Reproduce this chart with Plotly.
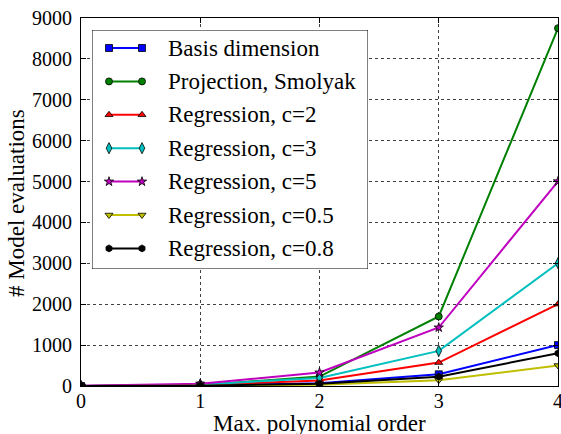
import plotly.graph_objects as go

orders = [0, 1, 2, 3, 4]
basis_dim = [1, 11, 66, 286, 1001]
proj_smolyak = [1, 21, 231, 1701, 8751]
reg_c2 = [2, 22, 132, 572, 2002]
reg_c3 = [3, 33, 198, 858, 3003]
reg_c5 = [5, 55, 330, 1430, 5005]
reg_c05 = [1, 6, 33, 143, 501]
reg_c08 = [1, 9, 53, 229, 801]

names = ["Basis dimension", "Projection, Smolyak", "Regression, c=2",
         "Regression, c=3", "Regression, c=5", "Regression, c=0.5",
         "Regression, c=0.8"]
series = [basis_dim, proj_smolyak, reg_c2, reg_c3, reg_c5, reg_c05, reg_c08]
colors = ["#0000ff", "#008000", "#ff0000", "#00bfbf", "#bf00bf", "#bfbf00", "#000000"]
symbols = ["square", "circle", "triangle-up", "diamond-tall", "star", "triangle-down", "hexagon"]
msizes = [7, 7, 7, 8, 7, 7, 7]

FONT = "Liberation Serif"
W, H = 561, 434
L, R, T, B = 81, 3, 18, 48
pw, ph = W - L - R, H - T - B

fig = go.Figure()
for n, s, c, sym, ms in zip(names, series, colors, symbols, msizes):
    fig.add_trace(go.Scatter(
        x=orders, y=s, name=n, mode="lines+markers",
        line=dict(color=c, width=2),
        marker=dict(symbol=sym, size=ms, color=c, line=dict(color="black", width=0.8)),
        showlegend=False, xaxis="x", yaxis="y"))

# manual legend on an overlay axis (pixel-like coordinates)
lx0, lx1, ly0, ly1 = 92, 368, 30, 269
def px_x(p):
    return (p - L) / pw
def px_y(p):
    return (H - B - p) / ph

fig.add_trace(go.Scatter(
    x=[lx0, lx1, lx1, lx0, lx0], y=[ly0, ly0, ly1, ly1, ly0],
    mode="lines", fill="toself", fillcolor="white",
    line=dict(color="black", width=1), showlegend=False,
    xaxis="x2", yaxis="y2", hoverinfo="skip"))

row0, dy = 48, 33.4
for i, (n, c, sym, ms) in enumerate(zip(names, colors, symbols, msizes)):
    yy = row0 + i * dy
    fig.add_trace(go.Scatter(
        x=[109, 142], y=[yy, yy], mode="lines+markers",
        line=dict(color=c, width=2),
        marker=dict(symbol=sym, size=ms, color=c, line=dict(color="black", width=0.8)),
        showlegend=False, xaxis="x2", yaxis="y2", hoverinfo="skip"))
    fig.add_annotation(x=166, y=yy, xref="x2", yref="y2", text=n,
                       showarrow=False, xanchor="left", yanchor="middle",
                       font=dict(family=FONT, size=23, color="black"))

# axis titles as paper annotations
fig.add_annotation(x=px_x(319.5), y=px_y(423), xref="paper", yref="paper",
                   text="Max. polynomial order", showarrow=False,
                   xanchor="center", yanchor="middle",
                   font=dict(family=FONT, size=23, color="black"))
fig.add_annotation(x=px_x(16), y=px_y(203), xref="paper", yref="paper",
                   text="# Model evaluations", showarrow=False, textangle=-90,
                   xanchor="center", yanchor="middle",
                   font=dict(family=FONT, size=23, color="black"))

axis_common = dict(
    showline=True, linecolor="black", linewidth=1, mirror="ticks",
    ticks="inside", ticklen=5, tickcolor="black",
    showgrid=True, gridcolor="rgba(0,0,0,0.75)", griddash="dot", gridwidth=1,
    zeroline=False, tickfont=dict(family=FONT, size=20, color="black"),
    ticklabeloverflow="allow", automargin=False,
)

fig.update_layout(
    width=W, height=H,
    margin=dict(l=L, r=R, t=T, b=B, autoexpand=False),
    plot_bgcolor="white", paper_bgcolor="white",
    showlegend=False,
    font=dict(family=FONT),
    xaxis=dict(range=[0, 4], dtick=1, ticklabelstandoff=-3, **axis_common),
    yaxis=dict(range=[0, 9000], dtick=1000, ticklabelstandoff=4, **axis_common),
    xaxis2=dict(domain=[px_x(lx0), px_x(lx1)], range=[lx0, lx1], visible=False,
                anchor="y2", fixedrange=True),
    yaxis2=dict(domain=[px_y(ly1), px_y(ly0)], range=[ly1, ly0], visible=False,
                anchor="x2", fixedrange=True),
)

fig.write_html("out.html")
